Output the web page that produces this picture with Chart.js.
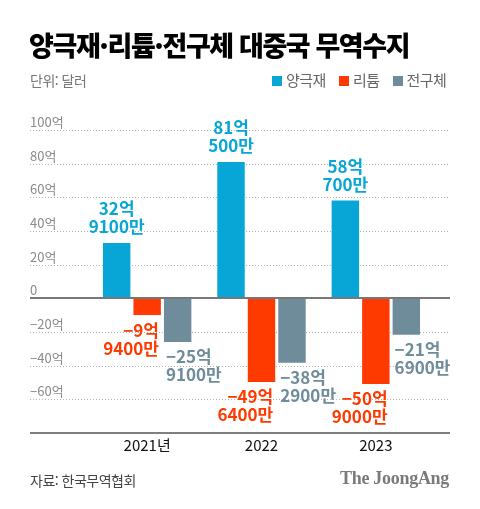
<!DOCTYPE html>
<html lang="ko">
<head>
<meta charset="utf-8">
<script src="https://cdn.jsdelivr.net/npm/chart.js@4"></script>
<style>
  html, body { margin: 0; padding: 0; background: #fff; }
  body { width: 480px; height: 509px; position: relative; overflow: hidden;
         font-family: "Noto Sans CJK KR", "Noto Sans", sans-serif; }
  #chart { position: absolute; left: 0; top: 0; }
  .title { position: absolute; left: 29px; top: 25px; font-size: 27px; font-weight: 900;
           letter-spacing: -1.4px; color: #000; white-space: nowrap; }
  .unit { position: absolute; left: 30px; top: 70px; font-size: 14px; color: #777; letter-spacing: -0.5px; }
  .legend { position: absolute; left: 272px; top: 69px; font-size: 15px; color: #666; white-space: nowrap; letter-spacing: -0.5px; }
  .legend span { display: inline-block; margin-right: 13px; }
  .legend i { display: inline-block; width: 10px; height: 10px; margin-right: 4px; vertical-align: -0px; }
  .source { position: absolute; left: 30px; top: 470px; font-size: 14px; color: #444; letter-spacing: -0.5px; }
  .brand { position: absolute; right: 31px; top: 468px; font-family: "Liberation Serif", "DejaVu Serif", serif;
           font-size: 18px; font-weight: 700; color: #7a7a7a; letter-spacing: -0.3px; }
</style>
</head>
<body>
<canvas id="chart" width="480" height="509"></canvas>
<div class="title">양극재·리튬·전구체 대중국 무역수지</div>
<div class="unit">단위: 달러</div>
<div class="legend" id="legend"></div>
<div class="source">자료: 한국무역협회</div>
<div class="brand">The JoongAng</div>
<script>
// values in 억 달러
const years = ["2021년", "2022", "2023"];
const cathode = [32.91, 81.05, 58.07];
const lithium = [-9.94, -49.64, -50.90];
const precursor = [-25.91, -38.29, -21.69];
const seriesNames = ["양극재", "리튬", "전구체"];
const seriesColors = ["#08a6d6", "#ff3a00", "#6f8c9a"];
const yTicks = [100, 80, 60, 40, 20, 0, -20, -40, -60];

const GRID_LEFT = 30;
const GRID_RIGHT = 450;

// legend
document.getElementById("legend").innerHTML = seriesNames
  .map((n, i) => `<span><i style="background:${seriesColors[i]}"></i>${n}</span>`)
  .join("");

function fmt(v) {
  const a = Math.abs(v);
  const eok = Math.floor(a + 1e-9);
  const man = Math.round((a - eok) * 10000);
  return [(v < 0 ? "−" : "") + eok + "억", man + "만"];
}

const decor = {
  id: "decor",
  beforeDatasetsDraw(chart) {
    const ctx = chart.ctx;
    const y = chart.scales.y;
    ctx.save();
    ctx.font = "13px 'Noto Sans CJK KR'";
    ctx.textAlign = "left";
    ctx.textBaseline = "bottom";
    yTicks.forEach((t) => {
      const py = Math.round(y.getPixelForValue(t)) + 0.5;
      if (t !== 0) {
        ctx.strokeStyle = "#b5b5b5";
        ctx.lineWidth = 1;
        ctx.setLineDash([1, 2]);
        ctx.beginPath();
        ctx.moveTo(GRID_LEFT, py);
        ctx.lineTo(GRID_RIGHT, py);
        ctx.stroke();
      }
      ctx.fillStyle = "#8a8a8a";
      const lbl = t === 0 ? "0" : (t < 0 ? "−" + Math.abs(t) : t) + "억";
      ctx.fillText(lbl, GRID_LEFT, py - 2);
    });
    ctx.restore();
  },
  afterDatasetsDraw(chart) {
    const ctx = chart.ctx;
    const y = chart.scales.y;
    const x = chart.scales.x;
    ctx.save();
    // zero line and bottom line
    ctx.setLineDash([]);
    ctx.strokeStyle = "#777";
    ctx.lineWidth = 2;
    const z = Math.round(y.getPixelForValue(0));
    ctx.beginPath();
    ctx.moveTo(GRID_LEFT, z);
    ctx.lineTo(GRID_RIGHT, z);
    ctx.stroke();
    ctx.strokeStyle = "#555";
    ctx.lineWidth = 1.5;
    const b = Math.round(y.getPixelForValue(y.min));
    ctx.beginPath();
    ctx.moveTo(GRID_LEFT, b);
    ctx.lineTo(GRID_RIGHT, b);
    ctx.stroke();

    // year labels
    ctx.font = "15px 'Noto Sans CJK KR'";
    ctx.fillStyle = "#111";
    ctx.textAlign = "center";
    ctx.textBaseline = "middle";
    years.forEach((yr, i) => ctx.fillText(yr, x.getPixelForValue(i), b + 12));

    // value labels
    ctx.font = "bold 17px 'Noto Sans CJK KR'";
    ctx.textBaseline = "middle";
    chart.data.datasets.forEach((ds, di) => {
      const meta = chart.getDatasetMeta(di);
      meta.data.forEach((bar, i) => {
        const v = ds.data[i];
        const lines = fmt(v);
        const half = bar.width / 2;
        ctx.fillStyle = seriesColors[di];
        if (v >= 0) {
          ctx.textAlign = "center";
          ctx.fillText(lines[0], bar.x, bar.y - 34);
          ctx.fillText(lines[1], bar.x, bar.y - 16);
        } else {
          let tx;
          if (di === 1) { ctx.textAlign = "right"; tx = bar.x + half - 2; }
          else { ctx.textAlign = "left"; tx = bar.x - half + 2; }
          ctx.fillText(lines[0], tx, bar.y + 15);
          ctx.fillText(lines[1], tx, bar.y + 33);
        }
      });
    });
    ctx.restore();
  }
};

new Chart(document.getElementById("chart"), {
  type: "bar",
  data: {
    labels: years,
    datasets: [
      { label: seriesNames[0], data: cathode, backgroundColor: seriesColors[0] },
      { label: seriesNames[1], data: lithium, backgroundColor: seriesColors[1] },
      { label: seriesNames[2], data: precursor, backgroundColor: seriesColors[2] },
    ],
  },
  options: {
    responsive: false,
    animation: false,
    layout: { padding: { left: 90, right: 47, top: 130, bottom: 76 } },
    datasets: { bar: { categoryPercentage: 0.8, barPercentage: 0.9 } },
    scales: {
      x: { display: false },
      y: { display: false, min: -80, max: 100 },
    },
    plugins: { legend: { display: false }, tooltip: { enabled: false } },
  },
  plugins: [decor],
});
</script>
</body>
</html>
